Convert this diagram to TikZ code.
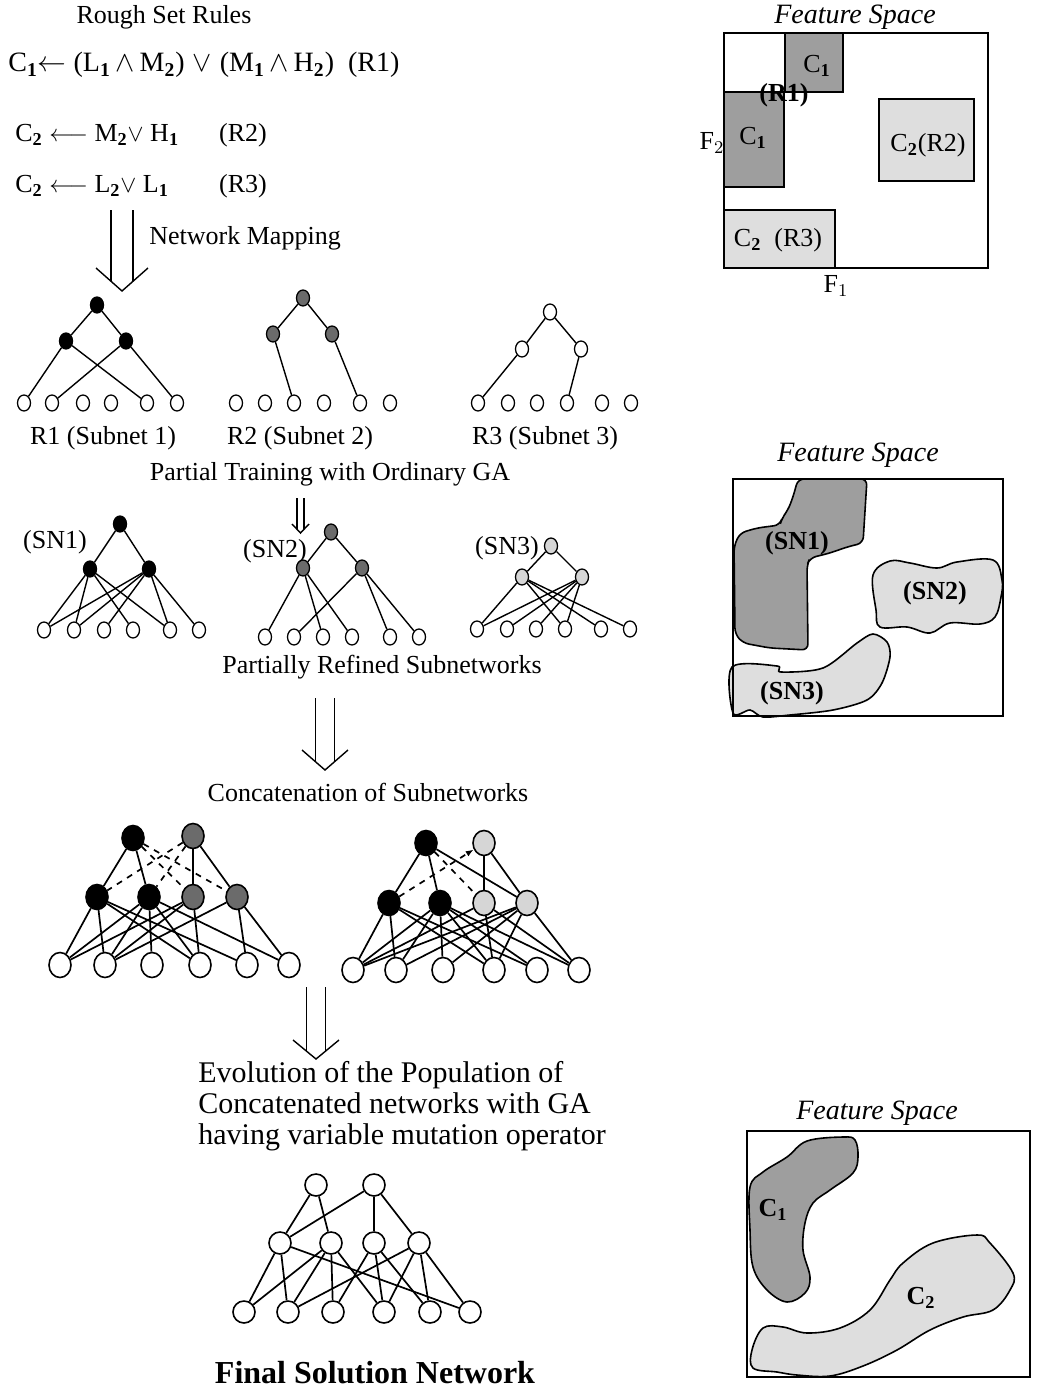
\documentclass[tikz,border=0pt]{standalone}
\usepackage{fontspec}
\setmainfont{Liberation Serif}
\usepackage{tikz}
\usetikzlibrary{arrows.meta}
\usetikzlibrary{shapes.geometric}
\definecolor{rs-dark}{gray}{0.42}
\definecolor{rs-light}{gray}{0.84}
\definecolor{reg-dense}{gray}{0.62}
\definecolor{reg-light}{gray}{0.87}

\begin{document}
\begin{tikzpicture}[x=0.5pt, y=-0.5pt,
    txt/.style={inner sep=0pt, font=\fontsize{13}{15}\selectfont},
    rule/.style={inner sep=0pt, font=\fontsize{14}{16}\selectfont},
    ttl/.style={inner sep=0pt, font=\fontsize{14}{16}\selectfont\itshape},
    unit/.style={ellipse, draw, line width=0.65pt, inner sep=0pt, minimum width=6.5pt, minimum height=8pt},
    bigunit/.style={ellipse, draw, line width=0.8pt, inner sep=0pt, minimum width=11pt, minimum height=12.5pt},
    blackfill/.style={fill=black},
    darkfill/.style={fill=rs-dark},
    lightfill/.style={fill=rs-light},
    region/.style={draw, line width=0.8pt}]

    \useasboundingbox (0,0) rectangle (1038,1393);

    % rules
    \node[txt] (title) at (164,17) {Rough Set Rules};
    \node[rule, anchor=west] (rule1) at (8,65) {C$_{\mathbf 1}$$\leftarrow$ (L$_{\mathbf 1}\,\wedge\,$M$_{\mathbf 2}$)$\;\vee\;$(M$_{\mathbf 1}\,\wedge\,$H$_{\mathbf 2}$)\ \ (R1)};
    \node[txt, anchor=west] (rule2) at (15,135) {C$_{\mathbf 2}$ $\longleftarrow$ M$_{\mathbf 2}\vee$ H$_{\mathbf 1}$};
    \node[txt] (tag2) at (243,135) {(R2)};
    \node[txt, anchor=west] (rule3) at (15,186) {C$_{\mathbf 2}$ $\longleftarrow$ L$_{\mathbf 2}\vee$ L$_{\mathbf 1}$};
    \node[txt] (tag3) at (243,186) {(R3)};
    \node[txt, anchor=west] (mapping) at (149,238) {Network Mapping};

    % hollow arrows
    \foreach \x/\ya/\yb/\s/\w/\h in {122/210/291/11/26/23, 300.5/498/533/3.5/8.5/9,
                                     325/698/770/9.5/23/20, 316/987/1059/9.5/23/19} {
        \draw[line width=0.7pt] (\x-\s,\ya) -- (\x-\s,\yb-\h*\s/\w);
        \draw[line width=0.7pt] (\x+\s,\ya) -- (\x+\s,\yb-\h*\s/\w);
        \draw[line width=0.7pt] (\x-\w,\yb-\h) -- (\x,\yb) -- (\x+\w,\yb-\h);
    }

    % subnets
    \begin{scope}[every node/.style={unit}]
        \node[blackfill] (r1t) at (97,305) {};
        \node[blackfill] (r1h1) at (66,341) {};
        \node[blackfill] (r1h2) at (126,341) {};
        \foreach \x [count=\i] in {24,52,83,111,147,177} \node (r1i\i) at (\x,403) {};

        \node[darkfill] (r2t) at (303,298) {};
        \node[darkfill] (r2h1) at (273,334) {};
        \node[darkfill] (r2h2) at (332,334) {};
        \foreach \x [count=\i] in {236,265,294,324,360,390} \node (r2i\i) at (\x,403) {};

        \node (r3t) at (550,312) {};
        \node (r3h1) at (522,349) {};
        \node (r3h2) at (581,349) {};
        \foreach \x [count=\i] in {478,508,537,567,602,631} \node (r3i\i) at (\x,403) {};
    \end{scope}

    \begin{scope}[every edge/.style={draw, line width=0.7pt}]
        \path (r1t) edge (r1h1) edge (r1h2);
        \path (r1h1) edge (r1i1) edge (r1i5);
        \path (r1h2) edge (r1i2) edge (r1i6);
        \path (r2t) edge (r2h1) edge (r2h2);
        \path (r2h1) edge (r2i3);
        \path (r2h2) edge (r2i5);
        \path (r3t) edge (r3h1) edge (r3h2);
        \path (r3h1) edge (r3i1);
        \path (r3h2) edge (r3i4);
    \end{scope}

    \node[txt] (sub1) at (103,438) {R1 (Subnet 1)};
    \node[txt] (sub2) at (300,438) {R2 (Subnet 2)};
    \node[txt] (sub3) at (545,438) {R3 (Subnet 3)};
    \node[txt] (partial) at (330,474) {Partial Training with Ordinary GA};

    % partially refined subnetworks
    \begin{scope}[every node/.style={unit}]
        \node[blackfill] (sn1t) at (120,524) {};
        \node[blackfill] (sn1h1) at (90,569) {};
        \node[blackfill] (sn1h2) at (149,569) {};
        \foreach \x [count=\i] in {44,74,104,133,170,199} \node (sn1i\i) at (\x,630) {};

        \node[darkfill] (sn2t) at (331,532) {};
        \node[darkfill] (sn2h1) at (303,568) {};
        \node[darkfill] (sn2h2) at (362,568) {};
        \foreach \x [count=\i] in {265,294,323,352,390,419} \node (sn2i\i) at (\x,637) {};

        \node[lightfill] (sn3t) at (551,546) {};
        \node[lightfill] (sn3h1) at (522,577) {};
        \node[lightfill] (sn3h2) at (582,577) {};
        \foreach \x [count=\i] in {477,507,536,565,601,630} \node (sn3i\i) at (\x,629) {};
    \end{scope}

    \begin{scope}[every edge/.style={draw, line width=0.7pt}]
        \path (sn1t) edge (sn1h1) edge (sn1h2);
        \path (sn1h1) edge (sn1i1) edge (sn1i2) edge (sn1i4) edge (sn1i5);
        \path (sn1h2) edge (sn1i1) edge (sn1i2) edge (sn1i3) edge (sn1i5) edge (sn1i6);
        \path (sn2t) edge (sn2h1) edge (sn2h2);
        \path (sn2h1) edge (sn2i1) edge (sn2i3) edge (sn2i4);
        \path (sn2h2) edge (sn2i2) edge (sn2i5) edge (sn2i6);
        \path (sn3t) edge (sn3h1) edge (sn3h2);
        \path (sn3h1) edge (sn3i1) edge (sn3i4) edge (sn3i5) edge (sn3i6);
        \path (sn3h2) edge (sn3i1) edge (sn3i2) edge (sn3i3) edge (sn3i4);
    \end{scope}

    \node[txt] (sn1) at (55,542) {(SN1)};
    \node[txt] (sn2) at (275,551) {(SN2)};
    \node[txt] (sn3) at (507,548) {(SN3)};
    \node[txt] (refined) at (382,667) {Partially Refined Subnetworks};
    \node[txt] (concat) at (368,792) {Concatenation of Subnetworks};

    % concatenated networks
    \begin{scope}[every node/.style={bigunit}]
        \node[blackfill] (clo1) at (133,838) {};
        \node[darkfill] (clo2) at (193,836) {};
        \node[blackfill] (clh1) at (97,897) {};
        \node[blackfill] (clh2) at (149,897) {};
        \node[darkfill] (clh3) at (193,897) {};
        \node[darkfill] (clh4) at (237,897) {};
        \foreach \x [count=\i] in {60,105,152,200,247,289} \node (cli\i) at (\x,965) {};

        \node[blackfill] (cro1) at (426,843) {};
        \node[lightfill] (cro2) at (484,843) {};
        \node[blackfill] (crh1) at (389,903) {};
        \node[blackfill] (crh2) at (440,903) {};
        \node[lightfill] (crh3) at (484,903) {};
        \node[lightfill] (crh4) at (527,903) {};
        \foreach \x [count=\i] in {353,396,443,494,537,579} \node (cri\i) at (\x,970) {};
    \end{scope}

    \begin{scope}[every edge/.style={draw, line width=0.85pt}]
        \path (clo1) edge (clh1) edge (clh2);
        \path (clo2) edge (clh3) edge (clh4);
        \path[dashed] (clo1) edge (clh3) edge (clh4);
        \path[dashed] (clo2) edge (clh1) edge (clh2);
        \path (clh1) edge (cli1) edge (cli2) edge (cli4) edge (cli5);
        \path (clh2) edge (cli1) edge (cli2) edge (cli3) edge (cli4) edge (cli6);
        \path (clh3) edge (cli1) edge (cli2) edge (cli4);
        \path (clh4) edge (cli2) edge (cli5) edge (cli6);

        \path (cro1) edge (crh1) edge (crh2) edge (crh4);
        \path (cro2) edge (crh3) edge (crh4);
        \path[dashed] (crh1) edge[-{Latex[length=4pt, width=3pt]}] (cro2);
        \path[dashed] (cro1) edge (crh3);
        \path (crh1) edge (cri1) edge (cri2) edge (cri4) edge (cri5);
        \path (crh2) edge (cri1) edge (cri2) edge (cri3) edge (cri4) edge (cri5) edge (cri6);
        \path (crh3) edge (cri1) edge (cri4) edge (cri6);
        \path (crh4) edge (cri1) edge (cri2) edge (cri3) edge (cri4) edge (cri6);
    \end{scope}

    \node[txt, font=\fontsize{15}{15.5}\selectfont, align=left, anchor=west] (evolution) at (198,1106)
        {Evolution of the Population of\\Concatenated networks with GA\\having variable mutation operator};

    % final network
    \begin{scope}[every node/.style={circle, draw, line width=0.8pt, inner sep=0pt, minimum size=11pt}]
        \node (fo1) at (316,1185) {};
        \node (fo2) at (374,1185) {};
        \foreach \x [count=\i] in {280,331,374,419} \node (fh\i) at (\x,1243) {};
        \foreach \x [count=\i] in {244,288,333,384,430,470} \node (fi\i) at (\x,1312) {};
    \end{scope}

    \begin{scope}[every edge/.style={draw, line width=0.85pt}]
        \path (fo1) edge (fh1) edge (fh2);
        \path (fo2) edge (fh1) edge (fh3) edge (fh4);
        \path (fh1) edge (fi1) edge (fi2) edge (fi6);
        \path (fh2) edge (fi1) edge (fi2) edge (fi3) edge (fi4);
        \path (fh3) edge (fi3) edge (fi4) edge (fi5);
        \path (fh4) edge (fi2) edge (fi4) edge (fi5) edge (fi6);
    \end{scope}

    \node[inner sep=0pt, font=\fontsize{16}{18}\selectfont\bfseries] (final) at (375,1373) {Final Solution Network};

    % feature space 1
    \node[ttl] (fs1) at (855,17) {Feature Space};
    \draw[region, fill=reg-dense] (785,33) rectangle (843,92);
    \draw[region, fill=reg-dense] (724,92) rectangle (784,187);
    \draw[region, fill=reg-light] (879,99) rectangle (974,181);
    \draw[region, fill=reg-light] (724,210) rectangle (835,268);
    \draw[line width=1pt] (724,33) rectangle (988,268);
    \node[txt] (c1a) at (817,66) {C$_{\mathbf 1}$};
    \node[txt] (c1b) at (753,138) {C$_{\mathbf 1}$};
    \node[txt, font=\fontsize{13}{15}\selectfont\bfseries] (rr1) at (784,95) {(R1)};
    \node[txt] (c2a) at (928,145) {C$_{\mathbf 2}$(R2)};
    \node[txt] (c2b) at (778,240) {C$_{\mathbf 2}$\ \ (R3)};
    \node[txt] (f2) at (712,143) {F$_2$};
    \node[txt] (f1) at (836,286) {F$_1$};

    % feature space 2
    \node[ttl] (fs2) at (858,455) {Feature Space};
    \draw[region, fill=reg-dense, rounded corners=3pt] (798,479) -- (867,479) -- (863,543)
        -- (847,547) -- (830,553) -- (810,558) -- (807,565) -- (808,650) -- (770,648)
        -- (743,643) -- (735,634) -- (734,546) -- (740,533) -- (757,528) -- (780,525)
        -- (782,518) -- (788,510) -- (793,497) -- cycle;
    \draw[region, fill=reg-light] plot[smooth cycle, tension=0.6] coordinates {
        (873,575) (890,561) (910,563) (937,568) (957,562) (993,560) (1002,580)
        (1001,597) (995,617) (980,624) (950,623) (930,633) (907,627) (880,627) (876,610)};
    \draw[region, fill=reg-light] plot[smooth cycle, tension=0.5] coordinates {
        (732,667) (777,666) (781,672) (823,668) (857,643) (873,634) (887,642)
        (890,657) (882,683) (867,700) (833,710) (790,715) (763,717) (750,710) (733,713)};
    \draw[line width=1pt] (733,479) rectangle (1003,716);
    \node[txt, font=\fontsize{13}{15}\selectfont\bfseries] (fsn1) at (797,543) {(SN1)};
    \node[txt, font=\fontsize{13}{15}\selectfont\bfseries] (fsn2) at (935,593) {(SN2)};
    \node[txt, font=\fontsize{13}{15}\selectfont\bfseries] (fsn3) at (792,693) {(SN3)};

    % feature space 3
    \node[ttl] (fs3) at (877,1113) {Feature Space};
    \draw[region, fill=reg-dense] plot[smooth cycle, tension=0.6] coordinates {
        (750,1187) (763,1172) (787,1157) (807,1141) (843,1137) (855,1140) (858,1157)
        (853,1173) (830,1190) (813,1203) (805,1223) (803,1250) (810,1277) (805,1293)
        (787,1302) (767,1290) (753,1267) (750,1230)};
    \draw[region, fill=reg-light] plot[smooth cycle, tension=0.6] coordinates {
        (753,1368) (752,1350) (763,1328) (783,1327) (807,1333) (840,1328) (870,1310)
        (890,1280) (903,1263) (933,1243) (977,1235) (990,1243) (1013,1273) (1010,1290)
        (993,1310) (963,1317) (930,1330) (897,1350) (863,1366) (830,1376) (797,1375) (777,1372)};
    \draw[line width=1pt] (747,1131) rectangle (1030,1377);
    \node[txt, font=\fontsize{13}{15}\selectfont\bfseries] (fc1) at (773,1210) {C$_{\mathbf 1}$};
    \node[txt, font=\fontsize{13}{15}\selectfont\bfseries] (fc2) at (921,1298) {C$_{\mathbf 2}$};

\end{tikzpicture}
\end{document}
